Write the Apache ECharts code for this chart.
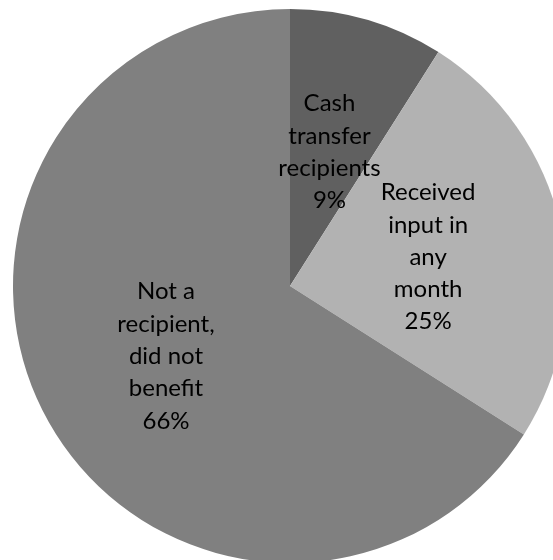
<!DOCTYPE html>
<html>
<head>
<meta charset="utf-8">
<style>
  html, body { margin: 0; padding: 0; background: #ffffff; }
  #chart { width: 553px; height: 560px; }
</style>
<script src="https://cdn.jsdelivr.net/npm/echarts@6/dist/echarts.min.js"></script>
</head>
<body>
<div id="chart"></div>
<script>
// Shares of households by cash transfer status
const categories = [
  'Cash\ntransfer\nrecipients',
  'Received\ninput in\nany\nmonth',
  'Not a\nrecipient,\ndid not\nbenefit'
];
const shares = [9, 25, 66];
const sliceColors = ['#606060', '#b2b2b2', '#808080'];

const chart = echarts.init(document.getElementById('chart'), null, { renderer: 'canvas' });

chart.setOption({
  backgroundColor: '#ffffff',
  animation: false,
  series: [{
    type: 'pie',
    center: [290, 286],
    radius: [0, 277],
    startAngle: 90,
    clockwise: true,
    avoidLabelOverlap: false,
    data: categories.map((name, i) => ({
      name: name,
      value: shares[i],
      itemStyle: { color: sliceColors[i] }
    })),
    itemStyle: { borderWidth: 0 },
    label: {
      show: true,
      position: 'inside',
      formatter: '{b}\n{d}%',
      color: '#000000',
      fontFamily: 'Lato',
      fontSize: 24,
      lineHeight: 32.3,
      align: 'center',
      offset: [0, 2]
    },
    labelLine: { show: false },
    emphasis: { disabled: true }
  }]
});
</script>
</body>
</html>
